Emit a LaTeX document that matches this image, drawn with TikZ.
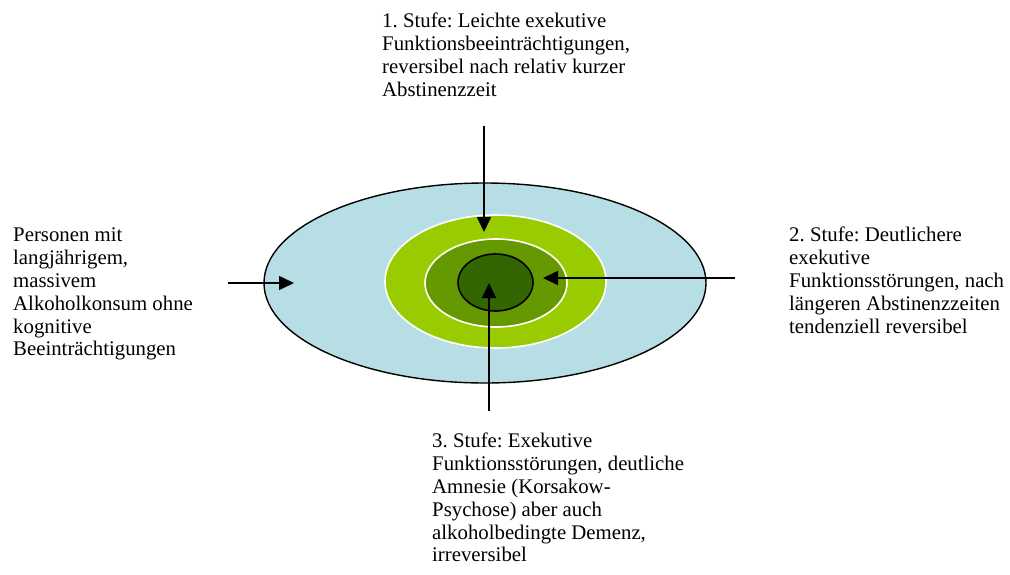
\documentclass[tikz,border=0pt]{standalone}
\usepackage{fontspec}
\setmainfont{Liberation Serif}
\usetikzlibrary{shapes.geometric,arrows.meta}
\definecolor{ringblue}{RGB}{183,222,228}
\definecolor{ringlight}{RGB}{153,204,0}
\definecolor{ringmid}{RGB}{102,153,0}
\definecolor{ringdark}{RGB}{51,102,0}
\tikzset{
  ring/.style={ellipse, inner sep=0pt},
  lbl/.style={anchor=north west, inner sep=0pt, align=left,
    font=\fontsize{20.8}{22.8}\selectfont\frenchspacing},
  arr/.style={line width=1.6pt, -{Triangle[length=15pt,width=14pt]}}
}
\begin{document}
\begin{tikzpicture}[x=1pt,y=-1pt]
\useasboundingbox (0,0) rectangle (1010,574);
% rings
\node[ring, draw=black, line width=1.4pt, fill=ringblue, minimum width=442pt, minimum height=200pt] (outer) at (485,283) {};
\node[ring, draw=white, line width=1.6pt, fill=ringlight, minimum width=221pt, minimum height=133pt] (stage1) at (495.5,281.5) {};
\node[ring, draw=white, line width=1.6pt, fill=ringmid, minimum width=142pt, minimum height=88pt] (stage2) at (496,283) {};
\node[ring, draw=black, line width=1.6pt, fill=ringdark, minimum width=75pt, minimum height=57pt] (stage3) at (495.5,282.5) {};
% labels
\node[lbl] (ttop) at (382,13) {1. Stufe: Leichte exekutive\\Funktionsbeeinträchtigungen,\\reversibel nach relativ kurzer\\Abstinenzzeit};
\node[lbl] (tleft) at (13,228) {Personen mit\\langjährigem,\\massivem\\Alkoholkonsum ohne\\kognitive\\Beeinträchtigungen};
\node[lbl] (tright) at (789,227) {2. Stufe: Deutlichere\\exekutive\\Funktionsstörungen, nach\\längeren Abstinenzzeiten\\tendenziell reversibel};
\node[lbl] (tbottom) at (432,433) {3. Stufe: Exekutive\\Funktionsstörungen, deutliche\\Amnesie (Korsakow-\\Psychose) aber auch\\alkoholbedingte Demenz,\\irreversibel};
% arrow end points
\coordinate (a1s) at (484,126);
\coordinate (a1e) at (484,232);
\coordinate (a2s) at (228,283);
\coordinate (a2e) at (294,283);
\coordinate (a3s) at (735,278);
\coordinate (a3e) at (543,278);
\coordinate (a4s) at (489,411);
\coordinate (a4e) at (489,283);
\draw[arr] (a1s) -- (a1e);
\draw[arr] (a2s) -- (a2e);
\draw[arr] (a3s) -- (a3e);
\draw[arr] (a4s) -- (a4e);
\end{tikzpicture}
\end{document}
